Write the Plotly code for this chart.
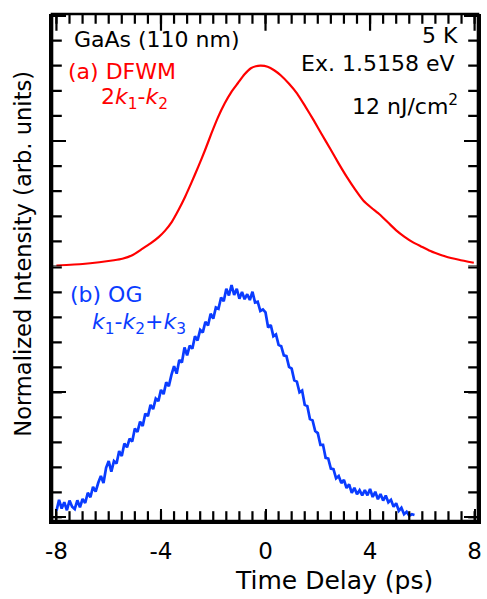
import plotly.graph_objects as go

# ---------------- data ----------------
# (a) DFWM 2k1-k2 (smooth curve)
dfwm_delay = [-8.0, -7.0, -6.36, -5.8, -5.48, -5.1, -4.72, -4.4, -4.09, -3.85,
              -3.59, -3.33, -3.08, -2.83, -2.58, -2.32, -2.07, -1.82, -1.56, -1.31,
              -1.06, -0.81, -0.56, -0.37, -0.18, 0.08, 0.33, 0.58, 0.9, 1.21,
              1.52, 1.84, 2.15, 2.47, 2.79, 3.11, 3.42, 3.74, 4.05, 4.37,
              4.7, 5.0, 5.32, 5.63, 5.95, 6.26, 6.58, 6.89, 7.4, 7.97]
dfwm_signal = [0.004, 0.010, 0.017, 0.025, 0.031, 0.045, 0.070, 0.092, 0.117, 0.142,
               0.177, 0.225, 0.277, 0.335, 0.396, 0.462, 0.530, 0.594, 0.650, 0.695,
               0.730, 0.765, 0.790, 0.798, 0.800, 0.796, 0.782, 0.762, 0.728, 0.689,
               0.638, 0.583, 0.527, 0.470, 0.412, 0.357, 0.308, 0.263, 0.234, 0.207,
               0.174, 0.144, 0.118, 0.097, 0.080, 0.064, 0.051, 0.040, 0.027, 0.015]

# (b) OG k1-k2+k3 (noisy trace, read point by point)
og_delay = [-8.0, -7.9, -7.8, -7.7, -7.6, -7.5, -7.4, -7.3, -7.2, -7.1,
            -7.0, -6.9, -6.8, -6.7, -6.6, -6.5, -6.4, -6.3, -6.2, -6.1,
            -6.0, -5.9, -5.8, -5.7, -5.6, -5.5, -5.4, -5.3, -5.2, -5.1,
            -5.0, -4.9, -4.8, -4.7, -4.6, -4.5, -4.4, -4.3, -4.2, -4.1,
            -4.0, -3.9, -3.8, -3.7, -3.6, -3.5, -3.4, -3.3, -3.2, -3.1,
            -3.0, -2.9, -2.8, -2.7, -2.6, -2.5, -2.4, -2.3, -2.2, -2.1,
            -2.0, -1.9, -1.8, -1.7, -1.6, -1.5, -1.4, -1.3, -1.2, -1.1,
            -1.0, -0.9, -0.8, -0.7, -0.6, -0.5, -0.4, -0.3, -0.2, -0.1,
            0.0, 0.1, 0.2, 0.3, 0.4, 0.5, 0.6, 0.7, 0.8, 0.9,
            1.0, 1.1, 1.2, 1.3, 1.4, 1.5, 1.6, 1.7, 1.8, 1.9,
            2.0, 2.1, 2.2, 2.3, 2.4, 2.5, 2.6, 2.7, 2.8, 2.9,
            3.0, 3.1, 3.2, 3.3, 3.4, 3.5, 3.6, 3.7, 3.8, 3.9,
            4.0, 4.1, 4.2, 4.3, 4.4, 4.5, 4.6, 4.7, 4.8, 4.9,
            5.0, 5.1, 5.2, 5.3, 5.4, 5.5, 5.6, 5.7]
og_signal = [0.025, 0.070, 0.035, 0.060, 0.028, 0.067, 0.042, 0.033, 0.068, 0.040,
             0.073, 0.057, 0.098, 0.080, 0.122, 0.103, 0.138, 0.165, 0.137, 0.198,
             0.225, 0.183, 0.225, 0.215, 0.265, 0.245, 0.295, 0.280, 0.315, 0.303,
             0.355, 0.342, 0.383, 0.365, 0.415, 0.405, 0.450, 0.433, 0.475, 0.465,
             0.510, 0.493, 0.540, 0.525, 0.570, 0.605, 0.575, 0.630, 0.620, 0.680,
             0.648, 0.687, 0.675, 0.725, 0.708, 0.750, 0.740, 0.783, 0.768, 0.815,
             0.795, 0.840, 0.835, 0.880, 0.865, 0.915, 0.888, 0.930, 0.890, 0.915,
             0.875, 0.902, 0.873, 0.893, 0.870, 0.903, 0.860, 0.863, 0.826, 0.832,
             0.820, 0.760, 0.770, 0.725, 0.732, 0.690, 0.685, 0.648, 0.645, 0.602,
             0.595, 0.548, 0.543, 0.500, 0.507, 0.450, 0.445, 0.393, 0.388, 0.345,
             0.337, 0.290, 0.290, 0.238, 0.235, 0.195, 0.193, 0.156, 0.165, 0.137,
             0.150, 0.117, 0.132, 0.098, 0.118, 0.092, 0.108, 0.088, 0.109, 0.088,
             0.113, 0.081, 0.102, 0.072, 0.093, 0.067, 0.087, 0.060, 0.070, 0.042,
             0.056, 0.026, 0.038, 0.012, 0.022, 0.006, 0.012, 0.009]

x_tickvals = [-8, -4, 0, 4, 8]
x_ticktext = ["-8", "-4", "0", "4", "8"]
x_minor_ticks = [i * 0.5 for i in range(-16, 17)]          # every 0.5 ps
y_minor_ticks = [round(i * 0.1, 1) for i in range(0, 11)]  # every 0.1

RED = "#ff0000"
BLUE = "#0a3cff"
FONT = "DejaVu Sans"

# plot area in pixels
L, R, T, B = 52, 482, 14, 521
W, H = 487, 599
XRANGE = [-8.17, 8.13]
YRANGE_BOT = [-0.015, 1.004]
YRANGE_TOP = [0, 1.006]


def px(xp):
    return (xp - L) / (R - L)


def py(yp):
    return (B - yp) / (B - T)


fig = go.Figure()
fig.add_trace(go.Scatter(x=og_delay, y=og_signal, xaxis="x", yaxis="y",
                         mode="lines", line=dict(color=BLUE, width=2.7),
                         showlegend=False))
fig.add_trace(go.Scatter(x=dfwm_delay, y=dfwm_signal, xaxis="x2", yaxis="y2",
                         mode="lines", line=dict(color=RED, width=2.2, shape="spline",
                                                 smoothing=0.5),
                         showlegend=False))


# Tick marks: line markers centred on the frame edges; the half outside the
# plot area is clipped, leaving inward-pointing ticks.
def tick_trace(xs, ys, xa, ya, symbol, size):
    return go.Scatter(x=xs, y=ys, xaxis=xa, yaxis=ya, mode="markers",
                      marker=dict(symbol=symbol, size=size, color="black",
                                  line=dict(width=2.2, color="black")),
                      cliponaxis=True, hoverinfo="skip", showlegend=False)


# bottom edge minor ticks (lower panel)
fig.add_trace(tick_trace(x_minor_ticks, [YRANGE_BOT[0]] * len(x_minor_ticks),
                         "x", "y", "line-ns", 14))
# top edge minor + major ticks (upper panel)
fig.add_trace(tick_trace(x_minor_ticks, [YRANGE_TOP[1]] * len(x_minor_ticks),
                         "x2", "y2", "line-ns", 14))
fig.add_trace(tick_trace(x_tickvals, [YRANGE_TOP[1]] * len(x_tickvals),
                         "x2", "y2", "line-ns", 24))
# left/right edge minor ticks in both panels
for xa, ya in (("x", "y"), ("x2", "y2")):
    for edge in XRANGE:
        fig.add_trace(tick_trace([edge] * len(y_minor_ticks), y_minor_ticks,
                                 xa, ya, "line-ew", 14))

split = py(266.5)


def ax_style(**kw):
    d = dict(showline=True, linewidth=2.6, linecolor="black",
             ticks="inside", tickwidth=2.3, tickcolor="black",
             showgrid=False, zeroline=False, showticklabels=False)
    d.update(kw)
    return d


shapes = [dict(type="rect", xref="paper", yref="paper", x0=0, x1=1, y0=0, y1=1,
               line=dict(color="black", width=2.6), layer="above")]

fig.update_layout(
    width=W, height=H,
    margin=dict(l=L, r=W - R, t=T, b=H - B),
    paper_bgcolor="white", plot_bgcolor="white",
    font=dict(family=FONT, color="black"),
    xaxis=ax_style(anchor="y", side="bottom", domain=[0, 1], range=XRANGE,
                   tickmode="array", tickvals=x_tickvals, ticktext=x_ticktext,
                   ticklen=12, showticklabels=True,
                   tickfont=dict(size=23, family=FONT, color="black"),
                   ticklabelstandoff=8),
    xaxis2=dict(anchor="y2", domain=[0, 1], range=XRANGE, visible=False),
    yaxis=ax_style(anchor="x", side="left", domain=[0, split], range=YRANGE_BOT,
                   mirror="ticks", tickmode="linear", tick0=0, dtick=0.5, ticklen=14),
    yaxis2=ax_style(anchor="x2", side="left", domain=[split, 1], range=YRANGE_TOP,
                    mirror="ticks", tickmode="linear", tick0=0, dtick=0.5, ticklen=14),
    shapes=shapes,
)

ann = []


def add_text(text, xp, yp, color="black", size=22, xanchor="left"):
    ann.append(dict(text=text, x=px(xp), y=py(yp), xref="paper", yref="paper",
                    xanchor=xanchor, yanchor="middle", showarrow=False,
                    font=dict(family=FONT, size=size, color=color)))


add_text("GaAs (110 nm)", 72, 39.5)
add_text("(a) DFWM", 66, 71.5, color=RED)
add_text("2<i>k</i><sub>1</sub>-<i>k</i><sub>2</sub>", 99, 99, color=RED)
add_text("5 K", 464, 35.5, xanchor="right")
add_text("Ex. 1.5158 eV", 460, 63, xanchor="right")
add_text("12 nJ/cm<sup>2</sup>", 464, 105, xanchor="right")
add_text("(b) OG", 68, 294.5, color=BLUE)
add_text("<i>k</i><sub>1</sub>-<i>k</i><sub>2</sub>+<i>k</i><sub>3</sub>", 90, 323, color=BLUE)

# axis titles
ann.append(dict(text="Time Delay (ps)", x=px(337), y=py(580), xref="paper", yref="paper",
                xanchor="center", yanchor="middle", showarrow=False,
                font=dict(family=FONT, size=25, color="black")))
ann.append(dict(text="Normalized Intensity (arb. units)", x=px(23), y=py(253.5),
                xref="paper", yref="paper", xanchor="center", yanchor="middle",
                textangle=-90, showarrow=False,
                font=dict(family=FONT, size=22.6, color="black")))

fig.update_layout(annotations=ann)
fig.write_html("out.html", config={"displayModeBar": False},
               post_script="document.body.style.margin='0';document.body.style.overflow='hidden';")
